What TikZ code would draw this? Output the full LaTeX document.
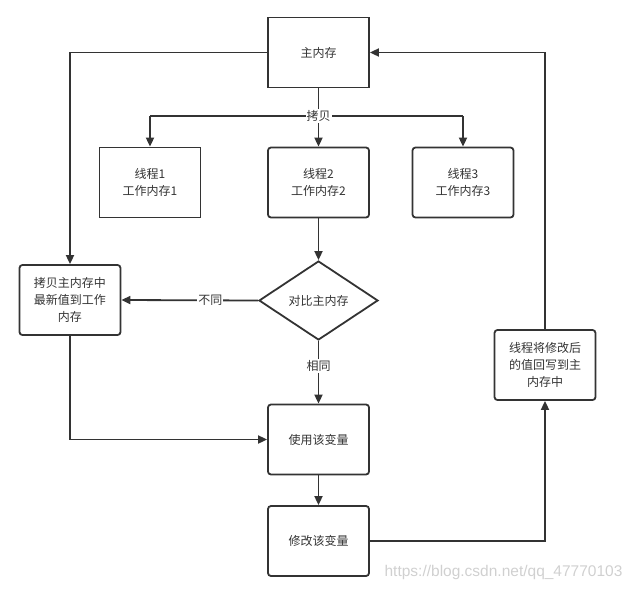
\documentclass[tikz,border=0pt]{standalone}
\usepackage{fontspec}
\setmainfont{Liberation Sans}
\newfontfamily\cjk{Noto Sans CJK SC}
\usetikzlibrary{shapes.geometric,arrows.meta}
\definecolor{ink}{HTML}{333333}
\definecolor{wm}{HTML}{D0D0D0}
\tikzset{
  every node/.style={font=\cjk\fontsize{12}{17}\selectfont, text=ink, align=center},
  sqbox/.style={draw=ink, line width=1.8pt, minimum width=101pt, minimum height=70pt, inner sep=0pt},
  rbox/.style={sqbox, rounded corners=3pt},
  dia/.style={draw=ink, line width=1.8pt, diamond, minimum width=119pt, minimum height=79pt, inner sep=0pt, aspect=1.5},
  conn/.style={draw=ink, line width=1.8pt, -{Triangle[length=9pt,width=8pt]}},
  plain/.style={draw=ink, line width=1.8pt},
  lbl/.style={fill=white, inner sep=1pt}
}
\begin{document}
\begin{tikzpicture}[x=1pt,y=-1pt]
\useasboundingbox (0,0) rectangle (633,590);
\node[sqbox] (main) at (318.5,52.5) {主内存};
\node[sqbox] (t1) at (150,182.5) {线程1\\工作内存1};
\node[rbox] (t2) at (318.5,182.5) {线程2\\工作内存2};
\node[rbox] (t3) at (463,182.5) {线程3\\工作内存3};
\node[dia] (cmp) at (318.5,300.5) {对比主内存};
\node[rbox] (copy) at (70,300) {拷贝主内存中\\最新值到工作\\内存};
\node[rbox] (use) at (318.5,439.5) {使用该变量};
\node[rbox] (mod) at (318.5,541) {修改该变量};
\node[rbox] (wb) at (545,365) {线程将修改后\\的值回写到主\\内存中};
\coordinate (split) at (318.5,116);
\coordinate (sl) at (150,116);
\coordinate (sr) at (463,116);
% copy branch
\draw[plain] (main.south) -- (split);
\draw[plain] (sl) -- (sr);
\draw[conn] (sl) -- (t1.north);
\draw[conn] (split) -- (t2.north);
\draw[conn] (sr) -- (t3.north);
\node[lbl] at (split) {拷贝};
% main flow
\draw[conn] (t2.south) -- (cmp.north);
\draw[conn] (cmp.west) -- node[lbl, pos=0.35] {不同} (copy.east);
\draw[conn] (cmp.south) -- node[lbl, pos=0.4] {相同} (use.north);
\draw[conn] (use.south) -- (mod.north);
\draw[conn] (main.west) -| (copy.north);
\draw[conn] (copy.south) |- (use.west);
\draw[conn] (mod.east) -| (wb.south);
\draw[conn] (wb.north) |- (main.east);
\node[font=\fontsize{15.5}{15.5}\selectfont, text=wm, anchor=east] (wmk) at (626,572) {https://blog.csdn.net/qq\_47770103};
\end{tikzpicture}
\end{document}
